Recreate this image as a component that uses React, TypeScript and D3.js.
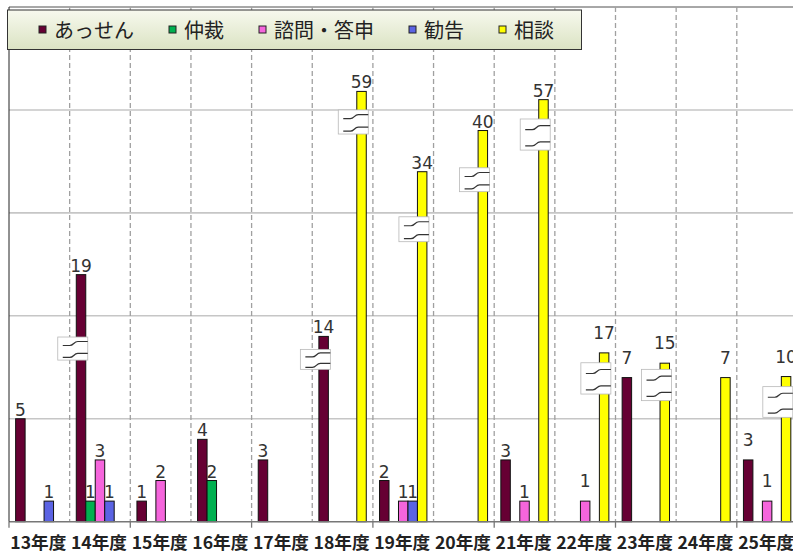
import React, { useEffect, useRef } from 'react';
import * as d3 from 'd3';

// categories
const years = ['13年度', '14年度', '15年度', '16年度', '17年度', '18年度', '19年度', '20年度', '21年度', '22年度', '23年度', '24年度', '25年度'];
const seriesNames = ['あっせん', '仲裁', '諮問・答申', '勧告', '相談'];
const seriesColors = ['#660033', '#00B050', '#F565DC', '#5B63E3', '#FFFF00'];

// labelled values (null = no bar)
const assen = [5, 19, 1, 4, 3, 14, 2, null, 3, null, 7, null, 3];
const chusai = [null, 1, null, 2, null, null, null, null, null, null, null, null, null];
const shimon = [null, 3, 2, null, null, null, 1, null, 1, 1, null, null, 1];
const kankoku = [1, 1, null, null, null, null, 1, null, null, null, null, null, null];
const sodan = [null, null, null, null, null, 59, 34, 40, 57, 17, 15, 7, 10];

// height the bar is actually drawn to (broken-axis bars are shortened)
const assenShown = [5, 12, 1, 4, 3, 9, 2, null, 3, null, 7, null, 3];
const sodanShown = [null, null, null, null, null, 20.9, 17, 19, 20.5, 8.2, 7.7, 7, 7.05];

// axis-break markers [low, high] in drawn units
const assenBreaks = [null, [7.85, 8.97], null, null, null, [7.4, 8.37], null, null, null, null, null, null, null];
const sodanBreaks = [null, null, null, null, null, [18.83, 20.0], [13.6, 14.81], [16.03, 17.19], [18.05, 19.56], [6.2, 7.72], [5.88, 7.4], null, [5.07, 6.56]];

const values = [assen, chusai, shimon, kankoku, sodan];
const shown = [assenShown, chusai, shimon, kankoku, sodanShown];
const breaks = [assenBreaks, null, null, null, sodanBreaks];

const yTicks = [5, 10, 15, 20];

export default function App() {
  const svgRef = useRef<SVGSVGElement>(null);

  useEffect(() => {
    if (!svgRef.current) return;
    const svg = d3.select(svgRef.current);
    svg.selectAll('*').remove();

    const left = 9;
    const top = 7;
    const base = 521.7;
    const step = 60.65;

    const x = d3.scaleBand<string>()
      .domain(years)
      .range([left, left + step * years.length])
      .padding(0);
    const xs = d3.scaleBand<string>()
      .domain(seriesNames)
      .range([0, x.bandwidth()])
      .paddingInner(0)
      .paddingOuter(0.7);
    const y = d3.scaleLinear().domain([0, 25]).range([base, top]);

    const defs = svg.append('defs');
    const grad = defs.append('linearGradient')
      .attr('id', 'legendGrad')
      .attr('x1', 0).attr('y1', 0).attr('x2', 0).attr('y2', 1);
    grad.append('stop').attr('offset', '0%').attr('stop-color', '#f7f9ee');
    grad.append('stop').attr('offset', '100%').attr('stop-color', '#dbe3c3');

    // horizontal gridlines
    svg.selectAll('.hgrid')
      .data(yTicks)
      .enter().append('line')
      .attr('x1', left).attr('x2', 793)
      .attr('y1', d => y(d)).attr('y2', d => y(d))
      .attr('stroke', '#c6c6c6')
      .attr('stroke-width', 1.6);

    // top border
    svg.append('line')
      .attr('x1', left).attr('x2', 793)
      .attr('y1', y(25)).attr('y2', y(25))
      .attr('stroke', '#505050')
      .attr('stroke-width', 1);

    // vertical dashed gridlines
    svg.selectAll('.vgrid')
      .data(years.slice(1))
      .enter().append('line')
      .attr('x1', d => x(d)!).attr('x2', d => x(d)!)
      .attr('y1', top).attr('y2', base)
      .attr('stroke', '#a0a0a0')
      .attr('stroke-width', 1.3)
      .attr('stroke-dasharray', '5,3');

    // bars
    seriesNames.forEach((name, si) => {
      const g = svg.append('g');
      years.forEach((yr, ci) => {
        const v = shown[si][ci];
        if (v == null) return;
        const bx = x(yr)! + xs(name)!;
        g.append('rect')
          .attr('x', bx)
          .attr('y', y(v))
          .attr('width', xs.bandwidth())
          .attr('height', base - y(v))
          .attr('fill', seriesColors[si])
          .attr('stroke', '#111')
          .attr('stroke-width', 1);
      });
    });

    // axis-break markers
    seriesNames.forEach((name, si) => {
      const br = breaks[si];
      if (!br) return;
      years.forEach((yr, ci) => {
        const b = br[ci];
        if (!b) return;
        const bx = x(yr)! + xs(name)! + xs.bandwidth() + 2 - 30;
        const y0 = y(b[1]);
        const h = y(b[0]) - y0;
        const mg = svg.append('g');
        mg.append('rect')
          .attr('x', bx).attr('y', y0)
          .attr('width', 30).attr('height', h)
          .attr('fill', '#fff')
          .attr('stroke', '#b8b8b8')
          .attr('stroke-width', 0.8);
        [0.28, 0.8].forEach(f => {
          const wy = y0 + h * f;
          mg.append('path')
            .attr('d', `M${bx + 5},${wy + 2} L${bx + 12},${wy + 2} C${bx + 16},${wy + 2} ${bx + 16},${wy - 2} ${bx + 20},${wy - 2} L${bx + 30},${wy - 2}`)
            .attr('fill', 'none')
            .attr('stroke', '#333')
            .attr('stroke-width', 1.2);
        });
      });
    });

    // value labels
    seriesNames.forEach((name, si) => {
      years.forEach((yr, ci) => {
        const v = values[si][ci];
        const h = shown[si][ci];
        if (v == null || h == null) return;
        const gap = ci >= 9 ? 14 : 3;
        svg.append('text')
          .attr('x', x(yr)! + xs(name)! + xs.bandwidth() / 2)
          .attr('y', y(h) - gap)
          .attr('text-anchor', 'middle')
          .style('font-family', 'DejaVu Sans, sans-serif')
          .style('font-size', '17px')
          .attr('fill', '#333')
          .text(v);
      });
    });

    // axes lines
    svg.append('line')
      .attr('x1', left).attr('x2', 793)
      .attr('y1', base).attr('y2', base)
      .attr('stroke', '#777')
      .attr('stroke-width', 1.5);
    svg.append('line')
      .attr('x1', left).attr('x2', left)
      .attr('y1', top).attr('y2', base)
      .attr('stroke', '#222')
      .attr('stroke-width', 1);

    // ticks every second category boundary
    svg.selectAll('.tick')
      .data(years.filter((_, i) => i % 2 === 0))
      .enter().append('line')
      .attr('x1', d => x(d)!).attr('x2', d => x(d)!)
      .attr('y1', base).attr('y2', base + 6)
      .attr('stroke', '#777')
      .attr('stroke-width', 1.3);

    // category labels
    svg.selectAll('.cat')
      .data(years)
      .enter().append('text')
      .attr('x', d => x(d)! + x.bandwidth() / 2 - 1)
      .attr('y', 541)
      .attr('text-anchor', 'middle')
      .attr('dominant-baseline', 'central')
      .attr('textLength', 56)
      .attr('lengthAdjust', 'spacingAndGlyphs')
      .style('font-family', 'Noto Sans CJK JP, sans-serif')
      .style('font-size', '17px')
      .style('font-weight', 'bold')
      .attr('fill', '#222')
      .text(d => d);

    // legend
    const lg = svg.append('g');
    lg.append('rect')
      .attr('x', 7.5).attr('y', 10)
      .attr('width', 574).attr('height', 39.5)
      .attr('fill', 'url(#legendGrad)')
      .attr('stroke', '#333')
      .attr('stroke-width', 1);
    let lx = 39;
    seriesNames.forEach((name, si) => {
      lg.append('rect')
        .attr('x', lx).attr('y', 26)
        .attr('width', 7).attr('height', 7)
        .attr('fill', seriesColors[si])
        .attr('stroke', '#222')
        .attr('stroke-width', 1);
      const t = lg.append('text')
        .attr('x', lx + 15)
        .attr('y', 29.5)
        .attr('dominant-baseline', 'central')
        .style('font-family', 'Noto Sans CJK JP, sans-serif')
        .style('font-size', '20px')
        .attr('fill', '#222')
        .text(name);
      const w = (t.node() as SVGTextElement).getComputedTextLength();
      lx += 15 + w + 35;
    });
  }, []);

  return (
    <div style={{ position: 'absolute', left: 0, top: 0 }}>
      <svg ref={svgRef} width={793} height={551} style={{ display: 'block', background: '#fff' }} />
    </div>
  );
}
